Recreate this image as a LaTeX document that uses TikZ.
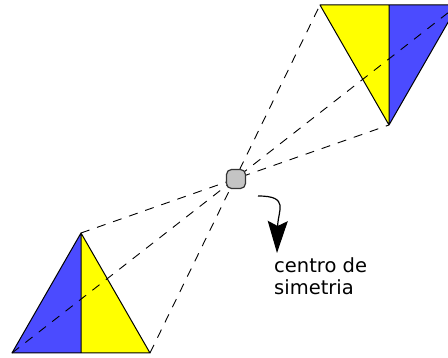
\documentclass[tikz,border=0pt]{standalone}
\usepackage{fontspec}
\newfontfamily\labelfont{DejaVu Sans}
\usetikzlibrary{arrows.meta}
\definecolor{triyellow}{HTML}{FFFF00}
\definecolor{triblue}{HTML}{4B4BFF}
\definecolor{centergray}{HTML}{C4C4C4}
\tikzset{
  halfA/.style={draw=black, line width=1pt, line join=round},
  dashline/.style={draw=black, line width=0.9pt, dash pattern=on 9pt off 8pt},
  centerdot/.style={draw=black!80, fill=centergray, line width=1.2pt, rounded corners=5pt,
    minimum width=19pt, minimum height=19pt, inner sep=0pt},
  curvearrow/.style={draw=black, line width=1.2pt, -{Stealth[length=32pt,width=20pt,inset=5pt]}},
  labeltext/.style={font=\labelfont\fontsize{19.5}{22}\selectfont, align=left, inner sep=0pt, anchor=base west}
}
\begin{document}
\begin{tikzpicture}[x=1pt,y=-1pt]
\useasboundingbox (0,0) rectangle (448,358);
\clip (0,0) rectangle (448,358);
% bottom triangle
\coordinate (bA) at (81,233);
\coordinate (bL) at (12,353);
\coordinate (bR) at (150,353);
\coordinate (bM) at (81,353);
% top triangle (image under point symmetry)
\coordinate (tA) at (389,125);
\coordinate (tR) at (458,5);
\coordinate (tL) at (320,5);
\coordinate (tM) at (389,5);
\fill[triblue] (bA) -- (bL) -- (bM) -- cycle;
\fill[triyellow] (bA) -- (bM) -- (bR) -- cycle;
\fill[triyellow] (tA) -- (tL) -- (tM) -- cycle;
\fill[triblue] (tA) -- (tM) -- (tR) -- cycle;
\draw[halfA] (bA) -- (bL) -- (bR) -- cycle (bA) -- (bM);
\draw[halfA] (tA) -- (tL) -- (tR) -- cycle (tA) -- (tM);
% dashed lines through the centre
\draw[dashline] (bA) -- (tA);
\draw[dashline] (bL) -- (tR);
\draw[dashline] (bR) -- (tL);
% centre
\node[centerdot] (c) at (236,179) {};
% arrow and label
\coordinate (arrStart) at (258,196);
\coordinate (arrEnd) at (277,253);
\draw[curvearrow] (arrStart) .. controls (290,196) and (278,210) .. (arrEnd);
\node[labeltext] (lbl) at (274,295) {centro de\\simetria};
\end{tikzpicture}
\end{document}
